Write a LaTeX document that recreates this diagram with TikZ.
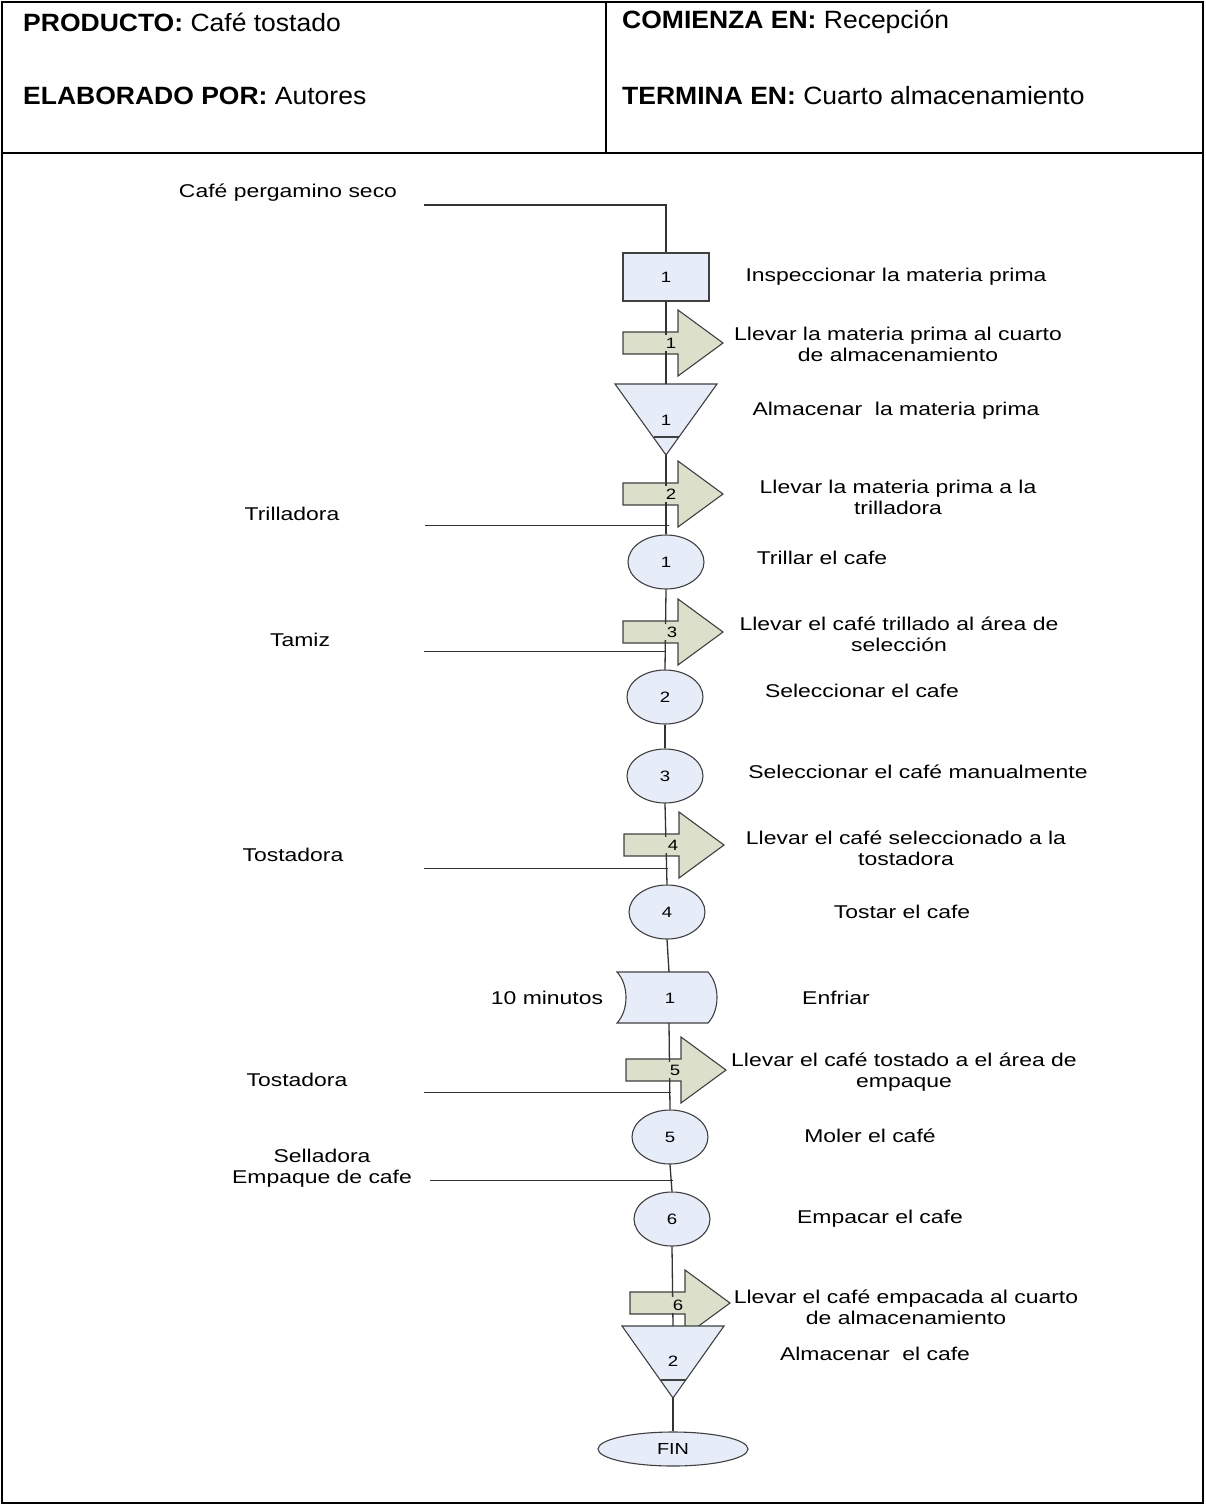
\documentclass[tikz,border=0pt]{standalone}
\usepackage{fontspec}
\setmainfont{Liberation Sans}
\newfontfamily\bodyf[FakeStretch=1.24]{Liberation Sans}
\newfontfamily\headf[FakeStretch=1.06]{Liberation Sans}
\usetikzlibrary{shapes.geometric}
\definecolor{shapeblue}{HTML}{E6ECF8}
\definecolor{arrowgreen}{HTML}{DCE0CA}
\definecolor{edge}{HTML}{404040}
\definecolor{linec}{HTML}{333333}
\tikzset{
  frame/.style={draw=black,line width=2pt},
  conn/.style={draw=linec,line width=1.3pt},
  sideconn/.style={draw=linec,line width=1pt},
  boxshape/.style={draw=edge,line width=1.1pt,fill=shapeblue},
  arrowbox/.style={draw=edge,line width=1.1pt,fill=arrowgreen},
  opbox/.style={boxshape,shape=ellipse,minimum width=76pt,minimum height=54pt,inner sep=0pt,font=\bodyf\fontsize{15}{17}\selectfont},
  inspbox/.style={boxshape,shape=rectangle,minimum width=86pt,minimum height=48pt,inner sep=0pt,font=\bodyf\fontsize{15}{17}\selectfont},
  num/.style={inner sep=2pt,font=\bodyf\fontsize{15}{17}\selectfont},
  arrnum/.style={num,fill=arrowgreen,inner xsep=5pt,inner ysep=3pt},
  lbl/.style={inner sep=0pt,align=center,font=\bodyf\fontsize{18.5}{21}\selectfont},
  hdr/.style={inner sep=0pt,anchor=west,font=\headf\fontsize{25}{28}\selectfont},
}
\newcommand\flecha[3]{% name, line x, center y
  \draw[arrowbox] (#2-43,#3-11) -- (#2+12,#3-11) -- (#2+12,#3-33) -- (#2+57,#3)
     -- (#2+12,#3+33) -- (#2+12,#3+11) -- (#2-43,#3+11) -- cycle;
  \coordinate (#1) at (#2,#3);
}
\newcommand\almacen[4]{% name, x, top y, apex y
  \draw[boxshape] (#2-51,#3) -- (#2+51,#3) -- (#2,#4) -- cycle;
  \draw[draw=edge,line width=1.1pt] (#2-12.5,#4-18) -- (#2+12.5,#4-18);
  \coordinate (#1top) at (#2,#3);
  \coordinate (#1apex) at (#2,#4);
}
\begin{document}
\begin{tikzpicture}[x=1pt,y=-1pt]
\useasboundingbox (0,0) rectangle (1206,1505);
% frame
\draw[frame] (2,2) rectangle (1203,1503);
\draw[frame] (606,2) -- (606,153);
\draw[frame,line width=2.6pt] (2,153) -- (1203,153);
\node[hdr] (h1) at (23,22) {\textbf{PRODUCTO:} Café tostado};
\node[hdr] (h2) at (23,96) {\textbf{ELABORADO POR:} Autores};
\node[hdr] (h3) at (622,22) {\textbf{COMIENZA EN:} Recepción};
\node[hdr] (h4) at (622,96) {\textbf{TERMINA EN:} Cuarto almacenamiento};

% shapes
\node[inspbox] (r1) at (666,277) {1};
\flecha{a1}{666}{343}
\almacen{t1}{666}{384}{455}
\flecha{a2}{666}{494}
\node[opbox] (c1) at (666,562) {1};
\flecha{a3}{666}{632}
\node[opbox] (c2) at (665,697) {2};
\node[opbox] (c3) at (665,776) {3};
\flecha{a4}{667}{845}
\node[opbox] (c4) at (667,912) {4};
\draw[boxshape] (617,972) -- (708,972) .. controls (720,985) and (720,1010) .. (708,1023)
   -- (617,1023) .. controls (629,1010) and (629,985) .. (617,972) -- cycle;
\coordinate (d1top) at (669,972);
\coordinate (d1bot) at (669,1023);
\flecha{a5}{669}{1070}
\node[opbox] (c5) at (670,1137) {5};
\node[opbox] (c6) at (672,1219) {6};
\flecha{a6}{673}{1303}
\almacen{t2}{673}{1326}{1398}
\node[boxshape,shape=ellipse,minimum width=150pt,minimum height=34pt,inner sep=0pt,font=\bodyf\fontsize{16}{18}\selectfont] (fin) at (673,1449) {FIN};

% side inputs
\coordinate (s0) at (424,205);
\coordinate (s1) at (425,525);
\coordinate (e1) at (669,525);
\coordinate (s2) at (424,651);
\coordinate (e2) at (666,651);
\coordinate (s3) at (424,868);
\coordinate (e3) at (668,868);
\coordinate (s4) at (424,1092);
\coordinate (e4) at (671,1092);
\coordinate (s5) at (430,1180);
\coordinate (e5) at (673,1180);

% main flow
\draw[conn] (s0) -| (r1.north);
\draw[conn] (r1.south) -- (t1top);
\draw[conn] (t1apex) -- (c1.north);
\draw[conn] (c1.south) -- (c2.north);
\draw[conn] (c2.south) -- (c3.north);
\draw[conn] (c3.south) -- (c4.north);
\draw[conn] (c4.south) -- (d1top);
\draw[conn] (d1bot) -- (c5.north);
\draw[conn] (c5.south) -- (c6.north);
\draw[conn] (c6.south) -- (t2top);
\draw[conn] (t2apex) -- (fin.north);
\draw[sideconn] (s1) -- (e1);
\draw[sideconn] (s2) -- (e2);
\draw[sideconn] (s3) -- (e3);
\draw[sideconn] (s4) -- (e4);
\draw[sideconn] (s5) -- (e5);

% numbers on top
\node[arrnum] (a1n) at (671,343) {1};
\node[arrnum] (a2n) at (671,494) {2};
\node[arrnum] (a3n) at (672,632) {3};
\node[arrnum] (a4n) at (673,845) {4};
\node[arrnum] (a5n) at (675,1070) {5};
\node[arrnum] (a6n) at (678,1305) {6};
\node[num] (t1n) at (666,420) {1};
\node[num] (t2n) at (673,1361) {2};
\node[num] (d1n) at (670,998) {1};

% labels
\node[lbl] (l0) at (288,193) {Café pergamino seco};
\node[lbl] (l1) at (896,277) {Inspeccionar la materia prima};
\node[lbl] (l2) at (898,344) {Llevar la materia prima al cuarto\\de almacenamiento};
\node[lbl] (l3) at (896,411) {Almacenar\ \ la materia prima};
\node[lbl] (l4) at (898,497) {Llevar la materia prima a la\\trilladora};
\node[lbl] (l5) at (292,514) {Trilladora};
\node[lbl] (l6) at (822,558) {Trillar el cafe};
\node[lbl] (l7) at (899,634) {Llevar el café trillado al área de\\selección};
\node[lbl] (l8) at (300,640) {Tamiz};
\node[lbl] (l9) at (862,691) {Seleccionar el cafe};
\node[lbl] (l10) at (918,772) {Seleccionar el café manualmente};
\node[lbl] (l11) at (906,848) {Llevar el café seleccionado a la\\tostadora};
\node[lbl] (l12) at (293,855) {Tostadora};
\node[lbl] (l13) at (902,912) {Tostar el cafe};
\node[lbl] (l14) at (547,998) {10 minutos};
\node[lbl] (l15) at (836,998) {Enfriar};
\node[lbl] (l16) at (904,1072) {Llevar el café tostado a el área de\\empaque};
\node[lbl] (l17) at (297,1080) {Tostadora};
\node[lbl] (l18) at (870,1136) {Moler el café};
\node[lbl] (l19) at (322,1168) {Selladora\\Empaque de cafe};
\node[lbl] (l20) at (880,1219) {Empacar el cafe};
\node[lbl] (l21) at (906,1307) {Llevar el café empacada al cuarto\\de almacenamiento};
\node[lbl] (l22) at (875,1354) {Almacenar\ \ el cafe};
\end{tikzpicture}
\end{document}
